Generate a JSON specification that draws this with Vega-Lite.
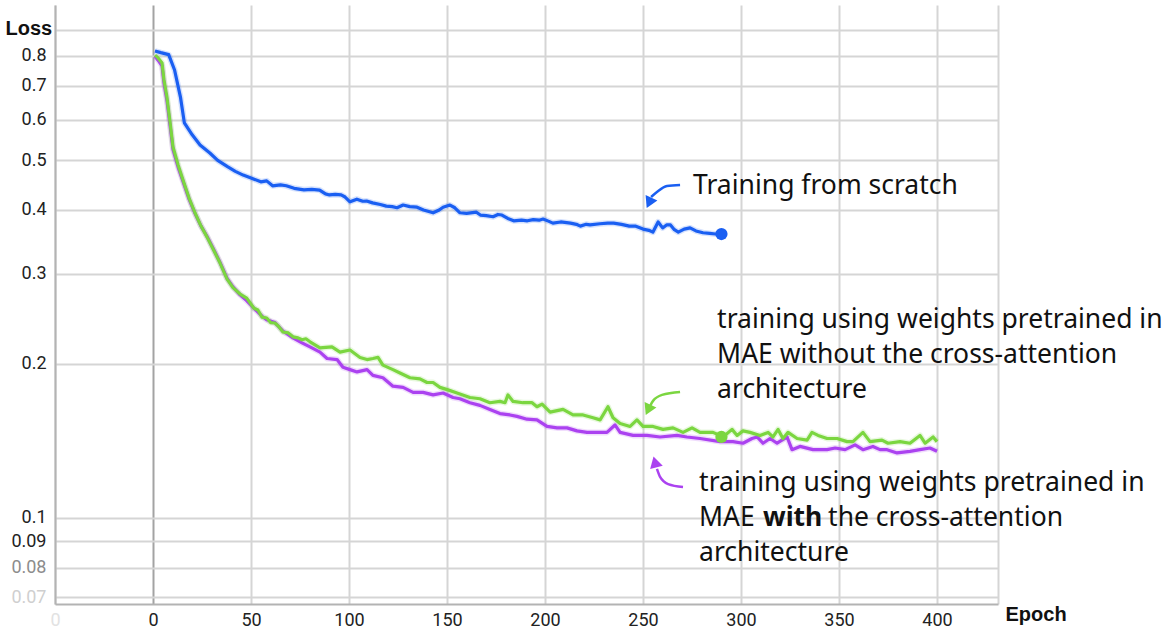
{
  "$schema": "https://vega.github.io/schema/vega-lite/v6.json",
  "width": 943,
  "height": 599,
  "autosize": {"type": "none"},
  "padding": {"left": 55, "top": 5, "right": 172, "bottom": 40},
  "background": "white",
  "config": {"view": {"stroke": null}},
  "datasets": {
    "curves": [
      {"series": "scratch", "epoch": 1, "loss": 0.818},
      {"series": "scratch", "epoch": 4, "loss": 0.812},
      {"series": "scratch", "epoch": 8, "loss": 0.805},
      {"series": "scratch", "epoch": 11, "loss": 0.751},
      {"series": "scratch", "epoch": 14, "loss": 0.665},
      {"series": "scratch", "epoch": 16, "loss": 0.592},
      {"series": "scratch", "epoch": 20, "loss": 0.561},
      {"series": "scratch", "epoch": 24, "loss": 0.536},
      {"series": "scratch", "epoch": 29, "loss": 0.517},
      {"series": "scratch", "epoch": 33, "loss": 0.5},
      {"series": "scratch", "epoch": 38, "loss": 0.486},
      {"series": "scratch", "epoch": 42, "loss": 0.476},
      {"series": "scratch", "epoch": 46, "loss": 0.468},
      {"series": "scratch", "epoch": 50, "loss": 0.462},
      {"series": "scratch", "epoch": 55, "loss": 0.454},
      {"series": "scratch", "epoch": 58, "loss": 0.456},
      {"series": "scratch", "epoch": 61, "loss": 0.446},
      {"series": "scratch", "epoch": 65, "loss": 0.448},
      {"series": "scratch", "epoch": 68, "loss": 0.446},
      {"series": "scratch", "epoch": 72, "loss": 0.441},
      {"series": "scratch", "epoch": 77, "loss": 0.438},
      {"series": "scratch", "epoch": 81, "loss": 0.439},
      {"series": "scratch", "epoch": 85, "loss": 0.4375},
      {"series": "scratch", "epoch": 88, "loss": 0.43},
      {"series": "scratch", "epoch": 90, "loss": 0.428},
      {"series": "scratch", "epoch": 93, "loss": 0.429},
      {"series": "scratch", "epoch": 96, "loss": 0.428},
      {"series": "scratch", "epoch": 98, "loss": 0.424},
      {"series": "scratch", "epoch": 100.5, "loss": 0.415},
      {"series": "scratch", "epoch": 104, "loss": 0.42},
      {"series": "scratch", "epoch": 107, "loss": 0.416},
      {"series": "scratch", "epoch": 109, "loss": 0.4165},
      {"series": "scratch", "epoch": 112, "loss": 0.413},
      {"series": "scratch", "epoch": 116, "loss": 0.41},
      {"series": "scratch", "epoch": 119, "loss": 0.407},
      {"series": "scratch", "epoch": 122, "loss": 0.406},
      {"series": "scratch", "epoch": 124.5, "loss": 0.404},
      {"series": "scratch", "epoch": 127.6, "loss": 0.409},
      {"series": "scratch", "epoch": 131, "loss": 0.406},
      {"series": "scratch", "epoch": 134.7, "loss": 0.405},
      {"series": "scratch", "epoch": 138, "loss": 0.4},
      {"series": "scratch", "epoch": 142.9, "loss": 0.395},
      {"series": "scratch", "epoch": 146, "loss": 0.4},
      {"series": "scratch", "epoch": 148, "loss": 0.405},
      {"series": "scratch", "epoch": 151.5, "loss": 0.409},
      {"series": "scratch", "epoch": 154, "loss": 0.404},
      {"series": "scratch", "epoch": 156.6, "loss": 0.395},
      {"series": "scratch", "epoch": 160, "loss": 0.394},
      {"series": "scratch", "epoch": 165, "loss": 0.396},
      {"series": "scratch", "epoch": 167, "loss": 0.391},
      {"series": "scratch", "epoch": 170, "loss": 0.39},
      {"series": "scratch", "epoch": 173.5, "loss": 0.388},
      {"series": "scratch", "epoch": 176, "loss": 0.392},
      {"series": "scratch", "epoch": 178, "loss": 0.391},
      {"series": "scratch", "epoch": 181, "loss": 0.385},
      {"series": "scratch", "epoch": 184, "loss": 0.381},
      {"series": "scratch", "epoch": 188, "loss": 0.382},
      {"series": "scratch", "epoch": 191, "loss": 0.381},
      {"series": "scratch", "epoch": 194, "loss": 0.383},
      {"series": "scratch", "epoch": 197, "loss": 0.382},
      {"series": "scratch", "epoch": 199, "loss": 0.384},
      {"series": "scratch", "epoch": 202, "loss": 0.38},
      {"series": "scratch", "epoch": 204, "loss": 0.377},
      {"series": "scratch", "epoch": 208, "loss": 0.379},
      {"series": "scratch", "epoch": 213, "loss": 0.377},
      {"series": "scratch", "epoch": 216, "loss": 0.375},
      {"series": "scratch", "epoch": 218, "loss": 0.372},
      {"series": "scratch", "epoch": 221, "loss": 0.375},
      {"series": "scratch", "epoch": 223, "loss": 0.374},
      {"series": "scratch", "epoch": 228, "loss": 0.376},
      {"series": "scratch", "epoch": 232, "loss": 0.377},
      {"series": "scratch", "epoch": 235, "loss": 0.377},
      {"series": "scratch", "epoch": 239, "loss": 0.375},
      {"series": "scratch", "epoch": 243, "loss": 0.372},
      {"series": "scratch", "epoch": 246, "loss": 0.372},
      {"series": "scratch", "epoch": 250, "loss": 0.367},
      {"series": "scratch", "epoch": 253, "loss": 0.365},
      {"series": "scratch", "epoch": 255, "loss": 0.362},
      {"series": "scratch", "epoch": 257.7, "loss": 0.379},
      {"series": "scratch", "epoch": 260, "loss": 0.369},
      {"series": "scratch", "epoch": 262, "loss": 0.374},
      {"series": "scratch", "epoch": 264, "loss": 0.374},
      {"series": "scratch", "epoch": 266, "loss": 0.366},
      {"series": "scratch", "epoch": 268, "loss": 0.362},
      {"series": "scratch", "epoch": 271, "loss": 0.367},
      {"series": "scratch", "epoch": 274, "loss": 0.369},
      {"series": "scratch", "epoch": 277, "loss": 0.364},
      {"series": "scratch", "epoch": 280.6, "loss": 0.361},
      {"series": "scratch", "epoch": 284, "loss": 0.36},
      {"series": "scratch", "epoch": 287, "loss": 0.359},
      {"series": "scratch", "epoch": 290, "loss": 0.359},

      {"series": "with", "epoch": 1, "loss": 0.8},
      {"series": "with", "epoch": 2.6, "loss": 0.785},
      {"series": "with", "epoch": 4.6, "loss": 0.765},
      {"series": "with", "epoch": 5.6, "loss": 0.708},
      {"series": "with", "epoch": 7.1, "loss": 0.655},
      {"series": "with", "epoch": 8.7, "loss": 0.585},
      {"series": "with", "epoch": 10.2, "loss": 0.525},
      {"series": "with", "epoch": 12.8, "loss": 0.485},
      {"series": "with", "epoch": 15.3, "loss": 0.455},
      {"series": "with", "epoch": 18.4, "loss": 0.42},
      {"series": "with", "epoch": 21.4, "loss": 0.394},
      {"series": "with", "epoch": 24.5, "loss": 0.372},
      {"series": "with", "epoch": 27.6, "loss": 0.355},
      {"series": "with", "epoch": 31.1, "loss": 0.334},
      {"series": "with", "epoch": 34.2, "loss": 0.316},
      {"series": "with", "epoch": 37.8, "loss": 0.294},
      {"series": "with", "epoch": 40.8, "loss": 0.283},
      {"series": "with", "epoch": 44.4, "loss": 0.273},
      {"series": "with", "epoch": 47.8, "loss": 0.266},
      {"series": "with", "epoch": 51.5, "loss": 0.257},
      {"series": "with", "epoch": 55.6, "loss": 0.248},
      {"series": "with", "epoch": 58, "loss": 0.244},
      {"series": "with", "epoch": 62.2, "loss": 0.241},
      {"series": "with", "epoch": 66.3, "loss": 0.232},
      {"series": "with", "epoch": 71.4, "loss": 0.225},
      {"series": "with", "epoch": 76, "loss": 0.22},
      {"series": "with", "epoch": 80.1, "loss": 0.216},
      {"series": "with", "epoch": 85.2, "loss": 0.211},
      {"series": "with", "epoch": 88.8, "loss": 0.205},
      {"series": "with", "epoch": 93.9, "loss": 0.204},
      {"series": "with", "epoch": 96.9, "loss": 0.197},
      {"series": "with", "epoch": 100.5, "loss": 0.195},
      {"series": "with", "epoch": 104.1, "loss": 0.193},
      {"series": "with", "epoch": 109.2, "loss": 0.195},
      {"series": "with", "epoch": 112.2, "loss": 0.19},
      {"series": "with", "epoch": 117.3, "loss": 0.188},
      {"series": "with", "epoch": 122.4, "loss": 0.181},
      {"series": "with", "epoch": 127.6, "loss": 0.18},
      {"series": "with", "epoch": 132.7, "loss": 0.176},
      {"series": "with", "epoch": 137.8, "loss": 0.176},
      {"series": "with", "epoch": 142.9, "loss": 0.174},
      {"series": "with", "epoch": 148, "loss": 0.1755},
      {"series": "with", "epoch": 153.1, "loss": 0.172},
      {"series": "with", "epoch": 156.6, "loss": 0.171},
      {"series": "with", "epoch": 161.7, "loss": 0.168},
      {"series": "with", "epoch": 166.8, "loss": 0.166},
      {"series": "with", "epoch": 171.9, "loss": 0.163},
      {"series": "with", "epoch": 177, "loss": 0.16},
      {"series": "with", "epoch": 182.1, "loss": 0.159},
      {"series": "with", "epoch": 185.7, "loss": 0.158},
      {"series": "with", "epoch": 190.8, "loss": 0.156},
      {"series": "with", "epoch": 195.9, "loss": 0.1555},
      {"series": "with", "epoch": 201, "loss": 0.151},
      {"series": "with", "epoch": 206.1, "loss": 0.15},
      {"series": "with", "epoch": 211.2, "loss": 0.15},
      {"series": "with", "epoch": 216.3, "loss": 0.148},
      {"series": "with", "epoch": 221.4, "loss": 0.147},
      {"series": "with", "epoch": 226.5, "loss": 0.147},
      {"series": "with", "epoch": 231.6, "loss": 0.147},
      {"series": "with", "epoch": 235.7, "loss": 0.152},
      {"series": "with", "epoch": 238.3, "loss": 0.147},
      {"series": "with", "epoch": 244.9, "loss": 0.145},
      {"series": "with", "epoch": 252, "loss": 0.145},
      {"series": "with", "epoch": 258.7, "loss": 0.144},
      {"series": "with", "epoch": 267.3, "loss": 0.145},
      {"series": "with", "epoch": 272.4, "loss": 0.144},
      {"series": "with", "epoch": 279.1, "loss": 0.143},
      {"series": "with", "epoch": 289.3, "loss": 0.141},
      {"series": "with", "epoch": 295.9, "loss": 0.141},
      {"series": "with", "epoch": 301, "loss": 0.14},
      {"series": "with", "epoch": 305.6, "loss": 0.143},
      {"series": "with", "epoch": 308.2, "loss": 0.144},
      {"series": "with", "epoch": 311.2, "loss": 0.14},
      {"series": "with", "epoch": 314.8, "loss": 0.143},
      {"series": "with", "epoch": 318.4, "loss": 0.14},
      {"series": "with", "epoch": 323.5, "loss": 0.144},
      {"series": "with", "epoch": 326, "loss": 0.136},
      {"series": "with", "epoch": 330.1, "loss": 0.138},
      {"series": "with", "epoch": 336.7, "loss": 0.136},
      {"series": "with", "epoch": 343.9, "loss": 0.136},
      {"series": "with", "epoch": 348, "loss": 0.137},
      {"series": "with", "epoch": 353.1, "loss": 0.136},
      {"series": "with", "epoch": 358.2, "loss": 0.139},
      {"series": "with", "epoch": 362.2, "loss": 0.136},
      {"series": "with", "epoch": 367.3, "loss": 0.138},
      {"series": "with", "epoch": 370.9, "loss": 0.136},
      {"series": "with", "epoch": 374.5, "loss": 0.136},
      {"series": "with", "epoch": 379.6, "loss": 0.134},
      {"series": "with", "epoch": 386.2, "loss": 0.135},
      {"series": "with", "epoch": 391.3, "loss": 0.136},
      {"series": "with", "epoch": 396.4, "loss": 0.137},
      {"series": "with", "epoch": 400, "loss": 0.135},

      {"series": "without", "epoch": 1, "loss": 0.803},
      {"series": "without", "epoch": 2.6, "loss": 0.793},
      {"series": "without", "epoch": 4.6, "loss": 0.775},
      {"series": "without", "epoch": 5.6, "loss": 0.718},
      {"series": "without", "epoch": 7.1, "loss": 0.665},
      {"series": "without", "epoch": 8.7, "loss": 0.594},
      {"series": "without", "epoch": 10.2, "loss": 0.531},
      {"series": "without", "epoch": 12.8, "loss": 0.49},
      {"series": "without", "epoch": 15.3, "loss": 0.458},
      {"series": "without", "epoch": 18.4, "loss": 0.422},
      {"series": "without", "epoch": 21.4, "loss": 0.395},
      {"series": "without", "epoch": 24.5, "loss": 0.372},
      {"series": "without", "epoch": 27.6, "loss": 0.354},
      {"series": "without", "epoch": 31.1, "loss": 0.333},
      {"series": "without", "epoch": 34.2, "loss": 0.315},
      {"series": "without", "epoch": 37.8, "loss": 0.293},
      {"series": "without", "epoch": 40.8, "loss": 0.282},
      {"series": "without", "epoch": 44.4, "loss": 0.274},
      {"series": "without", "epoch": 47.8, "loss": 0.269},
      {"series": "without", "epoch": 51.5, "loss": 0.257},
      {"series": "without", "epoch": 53.5, "loss": 0.255},
      {"series": "without", "epoch": 55.6, "loss": 0.247},
      {"series": "without", "epoch": 58, "loss": 0.246},
      {"series": "without", "epoch": 60, "loss": 0.241},
      {"series": "without", "epoch": 62.2, "loss": 0.2405},
      {"series": "without", "epoch": 64, "loss": 0.237},
      {"series": "without", "epoch": 66.3, "loss": 0.231},
      {"series": "without", "epoch": 69, "loss": 0.23},
      {"series": "without", "epoch": 71.4, "loss": 0.226},
      {"series": "without", "epoch": 74, "loss": 0.225},
      {"series": "without", "epoch": 76, "loss": 0.223},
      {"series": "without", "epoch": 78, "loss": 0.224},
      {"series": "without", "epoch": 80.1, "loss": 0.221},
      {"series": "without", "epoch": 85.2, "loss": 0.215},
      {"series": "without", "epoch": 91.3, "loss": 0.216},
      {"series": "without", "epoch": 95.4, "loss": 0.211},
      {"series": "without", "epoch": 100.5, "loss": 0.213},
      {"series": "without", "epoch": 105.6, "loss": 0.206},
      {"series": "without", "epoch": 109.2, "loss": 0.204},
      {"series": "without", "epoch": 112.2, "loss": 0.205},
      {"series": "without", "epoch": 114.8, "loss": 0.206},
      {"series": "without", "epoch": 117.3, "loss": 0.199},
      {"series": "without", "epoch": 122.4, "loss": 0.195},
      {"series": "without", "epoch": 126, "loss": 0.192},
      {"series": "without", "epoch": 131.1, "loss": 0.188},
      {"series": "without", "epoch": 136.2, "loss": 0.187},
      {"series": "without", "epoch": 139.8, "loss": 0.184},
      {"series": "without", "epoch": 142.9, "loss": 0.184},
      {"series": "without", "epoch": 146.4, "loss": 0.18},
      {"series": "without", "epoch": 150.5, "loss": 0.178},
      {"series": "without", "epoch": 155.1, "loss": 0.1755},
      {"series": "without", "epoch": 161.7, "loss": 0.172},
      {"series": "without", "epoch": 166.8, "loss": 0.171},
      {"series": "without", "epoch": 171.9, "loss": 0.168},
      {"series": "without", "epoch": 177, "loss": 0.169},
      {"series": "without", "epoch": 179.6, "loss": 0.168},
      {"series": "without", "epoch": 181.1, "loss": 0.174},
      {"series": "without", "epoch": 183.7, "loss": 0.169},
      {"series": "without", "epoch": 188.8, "loss": 0.168},
      {"series": "without", "epoch": 193.4, "loss": 0.168},
      {"series": "without", "epoch": 195.9, "loss": 0.165},
      {"series": "without", "epoch": 198.5, "loss": 0.167},
      {"series": "without", "epoch": 202.6, "loss": 0.161},
      {"series": "without", "epoch": 209.2, "loss": 0.163},
      {"series": "without", "epoch": 214.3, "loss": 0.159},
      {"series": "without", "epoch": 219.4, "loss": 0.159},
      {"series": "without", "epoch": 224.5, "loss": 0.157},
      {"series": "without", "epoch": 228.1, "loss": 0.1555},
      {"series": "without", "epoch": 232.1, "loss": 0.165},
      {"series": "without", "epoch": 234.7, "loss": 0.157},
      {"series": "without", "epoch": 238.3, "loss": 0.153},
      {"series": "without", "epoch": 243.4, "loss": 0.151},
      {"series": "without", "epoch": 246.9, "loss": 0.1555},
      {"series": "without", "epoch": 250, "loss": 0.151},
      {"series": "without", "epoch": 255.1, "loss": 0.151},
      {"series": "without", "epoch": 260.2, "loss": 0.149},
      {"series": "without", "epoch": 265.3, "loss": 0.15},
      {"series": "without", "epoch": 270.4, "loss": 0.147},
      {"series": "without", "epoch": 275, "loss": 0.15},
      {"series": "without", "epoch": 279.1, "loss": 0.147},
      {"series": "without", "epoch": 285.7, "loss": 0.147},
      {"series": "without", "epoch": 289.3, "loss": 0.145},
      {"series": "without", "epoch": 290.8, "loss": 0.144},
      {"series": "without", "epoch": 295.4, "loss": 0.149},
      {"series": "without", "epoch": 298, "loss": 0.145},
      {"series": "without", "epoch": 301, "loss": 0.148},
      {"series": "without", "epoch": 304.6, "loss": 0.147},
      {"series": "without", "epoch": 309.7, "loss": 0.145},
      {"series": "without", "epoch": 313.8, "loss": 0.147},
      {"series": "without", "epoch": 316.3, "loss": 0.144},
      {"series": "without", "epoch": 318.9, "loss": 0.149},
      {"series": "without", "epoch": 321.4, "loss": 0.143},
      {"series": "without", "epoch": 324, "loss": 0.147},
      {"series": "without", "epoch": 328.6, "loss": 0.143},
      {"series": "without", "epoch": 333.7, "loss": 0.142},
      {"series": "without", "epoch": 336.2, "loss": 0.147},
      {"series": "without", "epoch": 339.3, "loss": 0.145},
      {"series": "without", "epoch": 343.9, "loss": 0.143},
      {"series": "without", "epoch": 349, "loss": 0.143},
      {"series": "without", "epoch": 354.1, "loss": 0.141},
      {"series": "without", "epoch": 357.1, "loss": 0.141},
      {"series": "without", "epoch": 362.2, "loss": 0.147},
      {"series": "without", "epoch": 365.8, "loss": 0.141},
      {"series": "without", "epoch": 371.9, "loss": 0.142},
      {"series": "without", "epoch": 375, "loss": 0.14},
      {"series": "without", "epoch": 381.1, "loss": 0.141},
      {"series": "without", "epoch": 386.2, "loss": 0.14},
      {"series": "without", "epoch": 391.3, "loss": 0.145},
      {"series": "without", "epoch": 393.9, "loss": 0.14},
      {"series": "without", "epoch": 398, "loss": 0.144},
      {"series": "without", "epoch": 400, "loss": 0.141}
    ],
    "ends": [
      {"series": "scratch", "epoch": 290, "loss": 0.359},
      {"series": "without", "epoch": 290, "loss": 0.144}
    ],
    "arrows": [
      {"series": "scratch", "step": 1, "epoch": 268.9, "loss": 0.4477},
      {"series": "scratch", "step": 2, "epoch": 262.2, "loss": 0.4457},
      {"series": "scratch", "step": 3, "epoch": 257.1, "loss": 0.4337},
      {"series": "scratch", "step": 4, "epoch": 254.1, "loss": 0.424},
      {"series": "without", "step": 1, "epoch": 268.9, "loss": 0.1763},
      {"series": "without", "step": 2, "epoch": 259.7, "loss": 0.174},
      {"series": "without", "step": 3, "epoch": 255.1, "loss": 0.1694},
      {"series": "without", "step": 4, "epoch": 253.6, "loss": 0.1655},
      {"series": "with", "step": 1, "epoch": 270.4, "loss": 0.115},
      {"series": "with", "step": 2, "epoch": 262.8, "loss": 0.1165},
      {"series": "with", "step": 3, "epoch": 258.7, "loss": 0.1203},
      {"series": "with", "step": 4, "epoch": 257.1, "loss": 0.1247}
    ],
    "heads": [
      {"series": "scratch", "epoch": 253.1, "loss": 0.4128},
      {"series": "without", "epoch": 252.6, "loss": 0.1626},
      {"series": "with", "epoch": 256.1, "loss": 0.1287}
    ],
    "notes": [
      {"epoch": 275.5, "loss": 0.4298, "text": "Training from scratch"},
      {"epoch": 287.8, "loss": 0.2351, "text": "training using weights pretrained in"},
      {"epoch": 287.8, "loss": 0.2009, "text": "MAE without the cross-attention"},
      {"epoch": 287.8, "loss": 0.1716, "text": "architecture"},
      {"epoch": 278.6, "loss": 0.1129, "text": "training using weights pretrained in"},
      {"epoch": 278.6, "loss": 0.0965, "text": "MAE"},
      {"epoch": 344.4, "loss": 0.0965, "text": "the cross-attention"},
      {"epoch": 278.6, "loss": 0.0824, "text": "architecture"}
    ],
    "boldnotes": [
      {"epoch": 311.2, "loss": 0.0965, "text": "with"}
    ]
  },
  "encoding": {
    "x": {
      "field": "epoch",
      "type": "quantitative",
      "scale": {"domain": [-50, 431.1], "nice": false, "zero": false},
      "axis": {
        "values": [-50, 0, 50, 100, 150, 200, 250, 300, 350, 400, 431.1],
        "labelExpr": "datum.value == -50 ? '0' : datum.value > 420 ? '' : datum.label",
        "labelFont": "Roboto",
        "labelFontSize": 18,
        "labelColor": {"condition": {"test": "datum.value == -50", "value": "#e2e2e2"}, "value": "#222222"},
        "labelPadding": 7,
        "labelFlush": false,
        "labelOverlap": false,
        "ticks": false,
        "grid": true,
        "gridColor": {"condition": {"test": "datum.value == 0", "value": "#a3a3a3"}, "value": "#d5d5d5"},
        "gridWidth": 2,
        "domainColor": "#b3b3b3",
        "domainWidth": 2,
        "title": "Epoch",
        "titleFont": "Liberation Sans",
        "titleFontSize": 20,
        "titleFontWeight": "bold",
        "titleColor": "#111111",
        "titleAngle": 0,
        "titleAlign": "left",
        "titleBaseline": "middle",
        "titleX": 950,
        "titleY": 10
      }
    },
    "y": {
      "field": "loss",
      "type": "quantitative",
      "scale": {"type": "log", "domain": [0.0679, 1.0063], "nice": false},
      "axis": {
        "values": [0.07, 0.08, 0.09, 0.1, 0.2, 0.3, 0.4, 0.5, 0.6, 0.7, 0.8, 0.9],
        "labelExpr": "datum.value > 0.85 ? '' : format(datum.value, '~g')",
        "labelFont": "Roboto",
        "labelFontSize": 18,
        "labelColor": {"condition": [{"test": "datum.value < 0.075", "value": "#cfcfcf"}, {"test": "datum.value < 0.085", "value": "#8c8c8c"}], "value": "#222222"},
        "labelPadding": 9,
        "labelFlush": false,
        "labelOverlap": false,
        "ticks": false,
        "grid": true,
        "gridColor": "#d5d5d5",
        "gridWidth": 2,
        "domainColor": "#b3b3b3",
        "domainWidth": 2,
        "title": "Loss",
        "titleFont": "Liberation Sans",
        "titleFontSize": 20,
        "titleFontWeight": "bold",
        "titleColor": "#111111",
        "titleAngle": 0,
        "titleAlign": "left",
        "titleBaseline": "middle",
        "titleX": -50,
        "titleY": 23
      }
    }
  },
  "layer": [
    {
      "data": {"name": "curves"},
      "mark": {"type": "line", "strokeWidth": 6, "strokeJoin": "round", "opacity": 0.18},
      "encoding": {
        "color": {
          "field": "series",
          "type": "nominal",
          "scale": {"domain": ["scratch", "without", "with"], "range": ["#1a5ff2", "#7bd640", "#ab42f0"]},
          "legend": null
        },
        "detail": {"field": "series"}
      }
    },
    {
      "data": {"name": "curves"},
      "mark": {"type": "line", "strokeWidth": 3.2, "strokeJoin": "round"},
      "encoding": {
        "color": {"field": "series", "type": "nominal", "legend": null},
        "detail": {"field": "series"}
      }
    },
    {
      "data": {"name": "ends"},
      "mark": {"type": "circle", "size": 150, "opacity": 1},
      "encoding": {"color": {"field": "series", "type": "nominal", "legend": null}}
    },
    {
      "data": {"name": "arrows"},
      "mark": {"type": "line", "strokeWidth": 2.5, "interpolate": "monotone"},
      "encoding": {
        "color": {"field": "series", "type": "nominal", "legend": null},
        "detail": {"field": "series"},
        "order": {"field": "step", "type": "quantitative"}
      }
    },
    {
      "data": {"name": "heads"},
      "transform": [{"filter": "datum.series != 'with'"}],
      "mark": {"type": "point", "shape": "triangle-down", "filled": true, "size": 170, "angle": 25, "opacity": 1},
      "encoding": {"color": {"field": "series", "type": "nominal", "legend": null}}
    },
    {
      "data": {"name": "heads"},
      "transform": [{"filter": "datum.series == 'with'"}],
      "mark": {"type": "point", "shape": "triangle-up", "filled": true, "size": 170, "angle": -15, "opacity": 1},
      "encoding": {"color": {"field": "series", "type": "nominal", "legend": null}}
    },
    {
      "data": {"name": "notes"},
      "mark": {"type": "text", "align": "left", "baseline": "alphabetic", "font": "Noto Sans", "fontSize": 26.5, "color": "#111111"},
      "encoding": {"text": {"field": "text"}}
    },
    {
      "data": {"name": "boldnotes"},
      "mark": {"type": "text", "align": "left", "baseline": "alphabetic", "font": "Noto Sans", "fontSize": 26.5, "fontWeight": "bold", "color": "#111111"},
      "encoding": {"text": {"field": "text"}}
    }
  ]
}
